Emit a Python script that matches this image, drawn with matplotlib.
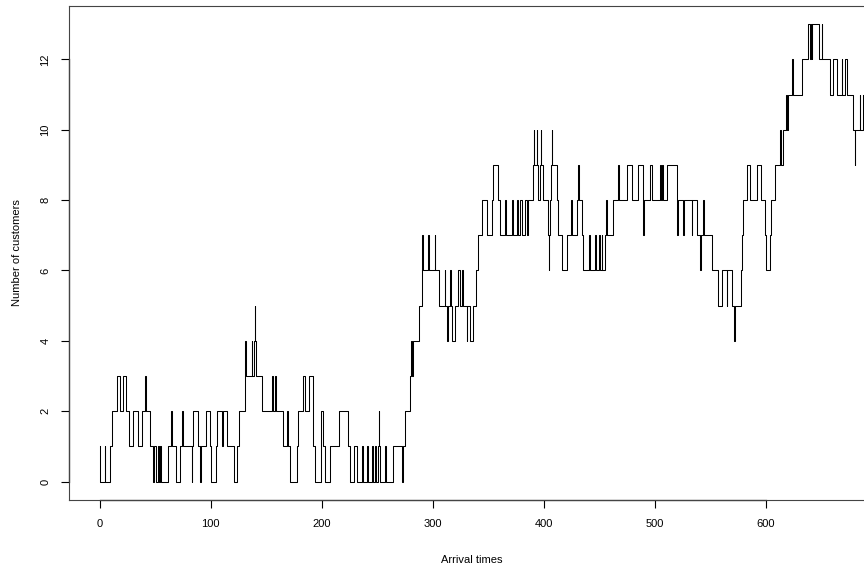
import numpy as np
import matplotlib
matplotlib.use("Agg")
from matplotlib import pyplot as plt
from matplotlib import transforms

# event times (arrival / departure) and number of customers after each event
times = [0, 0.3, 4.5, 5.0, 9.3, 11.0, 15.9, 18.0, 21.3, 23.5, 26.7, 30.3, 34.8, 38.0,
         40.8, 41.7, 45.0, 48.3, 49.0, 51.0, 52.5, 53.2, 54.5, 55.3, 61.8, 64.5, 65.2,
         68.7, 72.3, 74.4, 75.0, 82.8, 83.3, 83.6, 88.3, 90.4, 90.9, 95.5, 99.4, 100.3,
         104.5, 105.4, 109.9, 111.4, 114.7, 121.0, 123.4, 125.8, 130.9, 131.3, 131.9,
         136.9, 137.4, 139.3, 139.6, 140.0, 140.4, 145.9, 155.5, 156.0, 157.9, 158.4,
         164.8, 168.4, 169.9, 171.4, 178.0, 178.5, 182.8, 184.9, 188.8, 191.8, 192.4,
         193.9, 199.0, 199.4, 201.4, 203.0, 207.4, 215.9, 224.0, 225.5, 229.0, 231.5,
         236.0, 237.0, 240.5, 241.5, 245.0, 246.0, 248.0, 249.0, 251.0, 251.3, 251.7,
         252.5, 257.0, 258.0, 263.9, 272.0, 273.5, 275.0, 279.5, 280.3, 281.0, 282.5,
         288.0, 290.0, 290.5, 291.0, 296.0, 296.5, 302.0, 302.5, 306.0, 311.0, 311.5,
         313.0, 313.6, 315.6, 316.1, 317.0, 320.0, 323.1, 324.6, 326.1, 327.6, 330.6,
         331.2, 333.6, 336.6, 338.7, 340.5, 344.7, 348.6, 353.7, 354.2, 358.5, 360.6,
         365.0, 365.6, 371.1, 372.6, 375.6, 376.4, 378.6, 380.1, 383.1, 384.6, 385.6,
         390.7, 391.2, 391.7, 393.7, 394.2, 395.2, 397.0, 397.5, 398.0, 399.7, 404.2,
         404.5, 405.0, 405.7, 406.5, 407.2, 407.6, 411.7, 413.2, 416.2, 420.7, 424.3,
         425.2, 429.7, 431.2, 432.2, 434.2, 435.7, 441.1, 441.6, 446.2, 446.7, 450.1,
         450.6, 452.2, 452.7, 455.2, 455.7, 456.7, 462.7, 467.3, 467.8, 474.8, 479.3,
         485.3, 489.5, 490.0, 495.8, 497.3, 504.8, 505.5, 506.5, 507.8, 510.8, 519.8,
         520.3, 521.3, 525.8, 526.3, 533.3, 533.8, 537.9, 540.9, 541.5, 543.9, 544.4,
         551.4, 557.4, 560.4, 564.9, 565.5, 569.4, 571.5, 572.0, 578.0, 579.0, 580.0,
         582.8, 585.8, 591.8, 595.4, 599.5, 600.5, 603.8, 605.0, 608.3, 612.8, 614.0,
         615.8, 618.2, 618.8, 620.3, 623.4, 624.2, 632.4, 638.4, 640.0, 640.5, 641.4,
         641.9, 648.3, 650.4, 650.9, 657.9, 660.9, 663.9, 668.4, 669.0, 671.4, 672.9,
         678.3, 680.4, 680.9, 684.9, 685.4, 687.9]
customers = [1, 0, 1, 0, 1, 2, 3, 2, 3, 2, 1, 2, 1, 2,
             3, 2, 1, 0, 1, 0, 1, 0, 1, 0, 1, 2, 1,
             0, 1, 2, 1, 0, 1, 2, 1, 0, 1, 2, 1, 0,
             1, 2, 1, 2, 1, 0, 1, 2, 3, 4, 3,
             4, 3, 4, 5, 4, 3, 2, 3, 2, 3, 2,
             1, 2, 1, 0, 1, 2, 3, 2, 3, 2, 1,
             0, 1, 2, 1, 0, 1, 2, 1, 0, 1, 0,
             1, 0, 1, 0, 1, 0, 1, 0, 1, 2, 1,
             0, 1, 0, 1, 0, 1, 2, 3, 4, 3, 4,
             5, 6, 7, 6, 7, 6, 7, 6, 5, 6, 5,
             4, 5, 6, 5, 4, 5, 6, 5, 6, 5, 4,
             5, 4, 5, 6, 7, 8, 7, 8, 9, 8, 7,
             8, 7, 8, 7, 8, 7, 8, 7, 8, 7, 8,
             9, 10, 9, 10, 9, 8, 9, 10, 9, 8, 7,
             6, 7, 8, 9, 10, 9, 8, 7, 6, 7, 8,
             7, 8, 9, 8, 7, 6, 7, 6, 7, 6, 7,
             6, 7, 6, 7, 8, 7, 8, 9, 8, 9, 8,
             9, 7, 8, 9, 8, 9, 8, 9, 8, 9, 8,
             7, 8, 7, 8, 7, 8, 7, 6, 7, 8, 7,
             6, 5, 6, 5, 6, 5, 4, 5, 6, 7, 8,
             9, 8, 9, 8, 7, 6, 7, 8, 9, 10, 9,
             10, 11, 10, 11, 12, 11, 12, 13, 12, 13, 12,
             13, 12, 13, 12, 11, 12, 11, 12, 11, 12, 11,
             10, 9, 10, 11, 10, 11]

xticks = [0, 100, 200, 300, 400, 500, 600]
yticks = [0, 2, 4, 6, 8, 10, 12]

plt.rcParams['font.family'] = ['Liberation Sans', 'DejaVu Sans']

fig = plt.figure(figsize=(8.64, 5.68), dpi=100)
# plot region runs past the right edge of the picture (original is cropped)
ax = fig.add_axes([69.2 / 864, 68 / 568, 824.6 / 864, 494.2 / 568])

ax.step(times, customers, where='post', color='black', lw=0.75)

xmax = max(times)
ax.set_xlim(-0.04 * xmax, 1.04 * xmax)
ax.set_ylim(-0.52, 13.52)

for s in ax.spines.values():
    s.set_color('#444444')
    s.set_linewidth(0.8)

ax.set_xticks(xticks)
ax.set_yticks(yticks)
ax.set_xticklabels([str(v) for v in xticks])
ax.set_yticklabels([str(v) for v in yticks], rotation=90, va='center')
ax.tick_params(direction='out', length=5.5, width=0.8, colors='black',
               labelsize=8, pad=8)

# R style axis lines, from first to last tick
tx = transforms.blended_transform_factory(ax.transData, ax.transAxes)
ax.plot([xticks[0], xticks[-1]], [0, 0], transform=tx, color='black', lw=0.9, clip_on=False)
ty = transforms.blended_transform_factory(ax.transAxes, ax.transData)
ax.plot([0, 0], [yticks[0], yticks[-1]], transform=ty, color='black', lw=0.9, clip_on=False)

fig.text(472 / 864, 1 - 560 / 568, 'Arrival times', ha='center', va='center', fontsize=8)
fig.text(17 / 864, 1 - 253 / 568, 'Number of customers', ha='center', va='center',
         rotation=90, fontsize=8)

fig.savefig('out.png', dpi=100)
